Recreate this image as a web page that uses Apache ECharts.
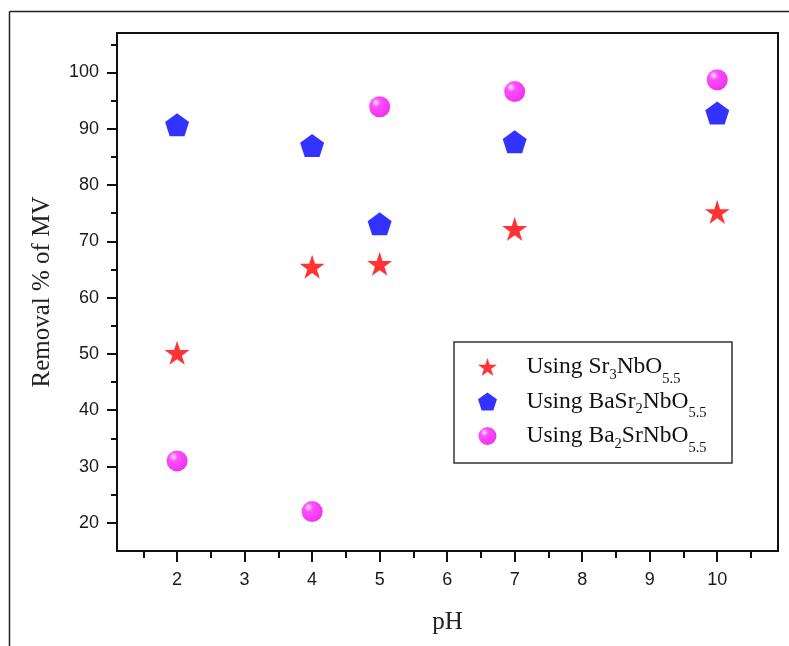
<!DOCTYPE html>
<html>
<head>
<meta charset="utf-8">
<script src="https://cdn.jsdelivr.net/npm/echarts@6/dist/echarts.min.js"></script>
<style>html,body{margin:0;padding:0;background:#fff;}#c{width:789px;height:646px;}</style>
</head>
<body>
<div id="c"></div>
<script>
const pH = [2, 4, 5, 7, 10];
const sr3 = [50.2, 65.5, 66.0, 72.2, 75.2];
const basr2 = [90.7, 87.0, 73.1, 87.7, 92.8];
const ba2sr = [31.0, 22.0, 93.9, 96.6, 98.7];
const xTicks = [2, 3, 4, 5, 6, 7, 8, 9, 10];
const xMinor = [1.5, 2.5, 3.5, 4.5, 5.5, 6.5, 7.5, 8.5, 9.5, 10.5];
const yTicks = [20, 30, 40, 50, 60, 70, 80, 90, 100];
const yMinor = [25, 35, 45, 55, 65, 75, 85, 95, 105];
const names = ['Using Sr3NbO5.5', 'Using BaSr2NbO5.5', 'Using Ba2SrNbO5.5'];
const legendRich = {
  'Using Sr3NbO5.5': '{a|Using Sr}{s|3}{a|NbO}{t|5.5}',
  'Using BaSr2NbO5.5': '{a|Using BaSr}{s|2}{a|NbO}{t|5.5}',
  'Using Ba2SrNbO5.5': '{a|Using Ba}{s|2}{a|SrNbO}{t|5.5}'
};

const STAR = 'path://M50,0 L61.2,34.5 L97.6,34.5 L68.2,55.9 L79.4,90.5 L50,69.1 L20.6,90.5 L31.8,55.9 L2.4,34.5 L38.8,34.5 Z';
const PENT = 'path://M50,0 L100,36.2 L80.9,95.1 L19.1,95.1 L0,36.2 Z';
const sphere = {
  type: 'radial', x: 0.33, y: 0.3, r: 0.7,
  colorStops: [
    { offset: 0, color: '#f4e8f4' },
    { offset: 0.3, color: '#ff22ff' },
    { offset: 1, color: '#ee00ee' }
  ]
};

const XMIN = 1.11, XMAX = 10.9, YMIN = 15, YMAX = 107;
const labelFont = { fontFamily: 'Liberation Sans', fontSize: 18, color: '#1a1a1a' };
const serif = 'Liberation Serif';

const chart = echarts.init(document.getElementById('c'));
chart.setOption({
  animation: false,
  backgroundColor: '#fff',
  grid: { left: 117, top: 33, right: 11, bottom: 95, show: true, borderColor: '#111', borderWidth: 2, backgroundColor: 'transparent' },
  xAxis: [
    {
      type: 'value', min: XMIN, max: XMAX,
      name: 'pH', nameLocation: 'middle', nameGap: 58.5,
      nameTextStyle: { fontFamily: serif, fontSize: 25, color: '#222' },
      axisLine: { show: true, lineStyle: { color: '#111', width: 2 } },
      axisTick: { show: true, inside: false, length: 11, lineStyle: { color: '#111', width: 2 }, customValues: xTicks },
      axisLabel: Object.assign({ margin: 20, customValues: xTicks }, labelFont),
      splitLine: { show: false }
    },
    {
      type: 'value', min: XMIN, max: XMAX, position: 'bottom',
      axisLine: { show: false },
      axisTick: { show: true, inside: false, length: 7, lineStyle: { color: '#111', width: 2 }, customValues: xMinor },
      axisLabel: { show: false },
      splitLine: { show: false }
    }
  ],
  yAxis: [
    {
      type: 'value', min: YMIN, max: YMAX,
      name: 'Removal % of MV', nameLocation: 'middle', nameGap: 62.5, nameRotate: 90,
      nameTextStyle: { fontFamily: serif, fontSize: 25, color: '#222' },
      axisLine: { show: true, lineStyle: { color: '#111', width: 2 } },
      axisTick: { show: true, inside: false, length: 10, lineStyle: { color: '#111', width: 2 }, customValues: yTicks },
      axisLabel: Object.assign({ margin: 18, customValues: yTicks }, labelFont),
      splitLine: { show: false }
    },
    {
      type: 'value', min: YMIN, max: YMAX, position: 'left',
      axisLine: { show: false },
      axisTick: { show: true, inside: false, length: 6, lineStyle: { color: '#111', width: 2 }, customValues: yMinor },
      axisLabel: { show: false },
      splitLine: { show: false }
    }
  ],
  legend: {
    orient: 'vertical', left: 478, top: 347.5, padding: 0,
    itemWidth: 68, itemHeight: 18, itemGap: -4.5,
    data: names,
    formatter: n => legendRich[n],
    textStyle: {
      rich: {
        a: { fontFamily: serif, fontSize: 23.5, color: '#111', lineHeight: 39 },
        s: { fontFamily: serif, fontSize: 14.5, color: '#111', lineHeight: 15, padding: [16, 0, 0, 0] },
        t: { fontFamily: serif, fontSize: 14.5, color: '#111', lineHeight: 15, padding: [24, 0, 0, 0] }
      }
    }
  },
  graphic: [
    { type: 'line', shape: { x1: 9.5, y1: 11.5, x2: 9.5, y2: 646 }, style: { stroke: '#222', lineWidth: 1.5 } },
    { type: 'line', shape: { x1: 9.5, y1: 11.5, x2: 789, y2: 11.5 }, style: { stroke: '#222', lineWidth: 1.5 } },
    { type: 'rect', shape: { x: 454, y: 342, width: 278, height: 121 }, style: { fill: 'none', stroke: '#333', lineWidth: 1.5 }, z: 5 }
  ],
  series: [
    {
      name: names[0], type: 'scatter', symbol: STAR, symbolSize: [25, 24],
      itemStyle: { color: '#ff0000' },
      data: pH.map((x, i) => [x, sr3[i]])
    },
    {
      name: names[1], type: 'scatter', symbol: PENT, symbolSize: [24, 23],
      itemStyle: { color: '#0000ff' },
      data: pH.map((x, i) => [x, basr2[i]])
    },
    {
      name: names[2], type: 'scatter', symbol: 'circle', symbolSize: 21,
      itemStyle: { color: sphere },
      data: pH.map((x, i) => [x, ba2sr[i]])
    }
  ]
});
</script>
</body>
</html>
